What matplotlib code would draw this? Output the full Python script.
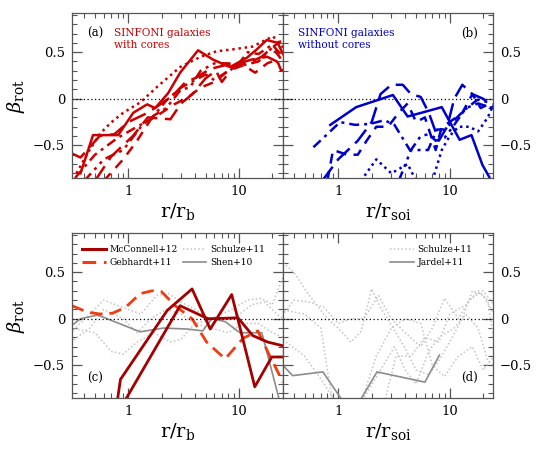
import numpy as np
import matplotlib
matplotlib.use("Agg")
import matplotlib.pyplot as plt
from matplotlib.lines import Line2D
from matplotlib.ticker import FixedLocator, NullFormatter, FuncFormatter

plt.rcParams['font.family'] = ['DejaVu Serif']
plt.rcParams['mathtext.fontset'] = 'dejavuserif'

# ---- panel (a): SINFONI galaxies with cores (x = r/r_b) ----
a_solid_x = [0.37, 0.48, 0.81, 1.11, 1.48, 1.75, 2.29, 2.94, 4.27, 5.83, 8.3, 11.8, 14.5, 17.8, 22.4, 25]
a_solid_y = [-0.80, -0.39, -0.39, -0.15, -0.06, -0.10, 0.06, 0.28, 0.52, 0.42, 0.34, 0.44, 0.53, 0.63, 0.60, 0.48]
a_dot_x = [0.34, 0.43, 0.56, 0.69, 0.90, 1.28, 1.83, 2.94, 4.5, 6.3, 8.8, 13.3, 20.3, 25]
a_dot_y = [-0.80, -0.58, -0.37, -0.26, -0.15, -0.04, 0.13, 0.34, 0.45, 0.51, 0.53, 0.56, 0.67, 0.55]
a_ldash_x = [0.30, 0.37, 0.55, 0.75, 1.0, 1.5, 2.0, 2.6, 3.3, 4.0, 5.5, 7.5, 10, 13, 18, 22, 25]
a_ldash_y = [-0.58, -0.63, -0.40, -0.38, -0.25, -0.15, -0.05, 0.05, 0.18, 0.22, 0.32, 0.36, 0.38, 0.42, 0.45, 0.40, 0.30]
a_dashdot_x = [0.33, 0.5, 0.8, 1.2, 1.6, 2.2, 3.0, 4.0, 5.0, 6.0, 8.0, 10, 12, 15, 20, 25]
a_dashdot_y = [-0.85, -0.60, -0.42, -0.30, -0.22, -0.02, 0.12, 0.20, 0.26, 0.20, 0.30, 0.38, 0.50, 0.48, 0.58, 0.45]
a_dash_x = [0.6, 0.9, 1.2, 1.6, 2.0, 2.6, 3.5, 4.5, 6.0, 8.0, 11, 14, 18, 22, 25]
a_dash_y = [-0.88, -0.65, -0.45, -0.22, -0.15, -0.06, 0.02, 0.12, 0.18, 0.30, 0.36, 0.28, 0.38, 0.42, 0.25]
a_ldash2_x = [0.5, 0.7, 1.1, 1.5, 2.4, 3.0, 3.8, 5.0, 6.2, 7.0, 9.0, 12, 16, 20, 24]
a_ldash2_y = [-0.88, -0.62, -0.40, -0.20, -0.22, -0.05, 0.05, 0.22, 0.30, 0.18, 0.35, 0.38, 0.45, 0.55, 0.62]
a_dd_x = [0.4, 0.6, 0.9, 1.3, 1.7, 2.2, 3.0, 3.6, 4.5, 6.0, 8.0, 11, 15, 20, 25]
a_dd_y = [-0.88, -0.65, -0.55, -0.30, -0.18, -0.10, 0.10, 0.12, 0.30, 0.38, 0.38, 0.36, 0.40, 0.55, 0.40]

# ---- panel (b): SINFONI galaxies without cores (x = r/r_soi) ----
b_solid_x = [0.85, 1.45, 3.1, 4.2, 5.6, 8.5, 12.3, 15.7, 19.7, 22.7]
b_solid_y = [-0.28, -0.09, 0.04, -0.19, -0.15, -0.09, -0.44, -0.39, -0.71, -0.84]
b_dashdot_x = [0.60, 1.04, 1.42, 1.93, 2.6, 3.2, 4.4, 6.4, 7.7, 9.0, 11, 13.6, 17.8, 22.7]
b_dashdot_y = [-0.52, -0.25, -0.28, -0.27, -0.23, -0.28, -0.55, -0.55, -0.33, -0.33, -0.23, -0.12, -0.01, -0.04]
b_ldash_x = [0.72, 1.0, 1.5, 2.0, 2.4, 3.0, 3.8, 4.5, 5.5, 6.5, 8.0, 9.5, 11, 13, 16, 20, 25]
b_ldash_y = [-0.88, -0.65, -0.45, -0.25, 0.05, 0.15, 0.15, 0.05, 0.02, -0.15, -0.45, -0.30, 0.0, 0.15, 0.05, 0.0, -0.10]
b_dash_x = [0.8, 0.9, 1.2, 1.5, 1.8, 2.2, 2.8, 3.5, 4.2, 5.0, 6.0, 7.5, 8.5, 10, 13, 16, 19, 23]
b_dash_y = [-0.88, -0.55, -0.60, -0.60, -0.45, -0.30, -0.30, -0.15, -0.05, -0.25, -0.20, -0.55, -0.30, -0.25, -0.15, 0.05, -0.10, -0.05]
b_dot1_x = [1.6, 2.2, 3.0, 4.2, 5.0]
b_dot1_y = [-0.88, -0.65, -0.80, -0.70, -0.88]
b_dot2_x = [7.0, 8.5, 10, 12, 15, 18, 22, 25]
b_dot2_y = [-0.88, -0.55, -0.40, -0.30, -0.30, -0.35, -0.20, -0.05]
b_dd_x = [3.5, 4.5, 5.5, 6.5, 7.5, 9.0, 11, 14, 18, 24]
b_dd_y = [-0.88, -0.55, -0.40, -0.38, -0.45, -0.42, -0.28, -0.10, -0.05, -0.10]

# ---- panel (c): literature, x = r/r_b ----
mc1_x = [0.78, 0.85, 2.25, 3.77, 5.5, 8.6, 13.9, 19.8, 25]
mc1_y = [-0.95, -0.65, 0.09, 0.32, -0.11, 0.26, -0.73, -0.41, -0.41]
mc2_x = [0.86, 2.94, 5.25, 9.8, 13.3, 18.2, 25]
mc2_y = [-0.95, 0.14, 0.0, 0.01, -0.18, -0.25, -0.29]
geb_x = [0.31, 0.43, 0.56, 0.72, 0.94, 1.28, 1.64, 2.0, 2.65, 3.77, 5.1, 7.5, 10.9, 14.8, 19.0, 25]
geb_y = [0.14, 0.07, 0.05, 0.06, 0.12, 0.27, 0.30, 0.29, 0.14, 0.0, -0.25, -0.43, -0.21, -0.13, -0.40, -0.68]
shen_x = [0.31, 0.37, 0.53, 1.28, 2.07, 3.4, 4.7, 5.7, 7.5, 10.2, 16.1, 23.5]
shen_y = [-0.07, 0.0, 0.04, -0.14, -0.10, -0.11, -0.13, 0.0, -0.03, -0.15, -0.15, -0.90]
sc1_x = [0.3, 0.45, 0.6, 0.9, 1.3, 1.8, 2.3, 3.0, 4.0, 5.5, 8.0, 12, 16, 20, 25]
sc1_y = [-0.15, 0.05, 0.20, 0.12, 0.05, 0.25, 0.27, 0.18, 0.10, 0.0, 0.08, 0.20, 0.22, 0.15, 0.45]
sc2_x = [0.3, 0.45, 0.6, 0.9, 1.2, 1.6, 2.2, 3.0, 4.0, 6.0, 9.0, 13, 17, 22, 25]
sc2_y = [-0.25, -0.10, 0.10, 0.0, -0.15, 0.0, 0.10, 0.05, -0.05, 0.0, 0.0, 0.15, 0.18, 0.05, 0.0]
sc3_x = [0.3, 0.5, 0.7, 0.9, 1.2, 1.7, 2.4, 3.0, 4.0, 5.5, 8.0, 11, 15, 20, 25]
sc3_y = [-0.10, -0.15, -0.35, -0.38, -0.25, -0.15, -0.25, -0.22, -0.05, -0.10, -0.15, -0.05, -0.05, -0.15, -0.20]

# ---- panel (d): literature, x = r/r_soi ----
jar_x = [0.32, 0.39, 0.73, 1.2, 1.45, 2.23, 6.0, 8.1]
jar_y = [-0.50, -0.61, -0.57, -0.95, -0.95, -0.57, -0.68, -0.39]
d1_x = [0.32, 0.4, 0.55, 0.8, 1.0, 1.3, 1.6, 2.0, 2.4, 3.0, 4.0, 5.0, 6.5, 8, 10, 13, 16, 20, 25]
d1_y = [0.60, 0.50, 0.25, 0.0, -0.10, -0.25, -0.14, 0.32, 0.12, -0.07, -0.32, -0.55, -0.60, -0.45, -0.25, 0.0, 0.30, 0.25, 0.05]
d2_x = [0.3, 0.4, 0.55, 0.75, 1.0, 1.3, 1.7, 2.3, 3.0, 4.0, 5.5, 7.0, 9.0, 12, 15, 20, 25]
d2_y = [0.0, 0.20, 0.18, 0.12, -0.05, 0.0, 0.0, 0.25, 0.0, -0.15, -0.30, -0.10, 0.22, 0.0, 0.20, 0.30, 0.15]
d3_x = [0.3, 0.5, 0.75, 0.95, 1.6, 2.2, 3.0, 4.0, 5.5, 7.0, 9.0, 12, 16, 20, 25]
d3_y = [-0.20, -0.40, -0.70, -0.90, -0.90, -0.40, -0.10, 0.0, -0.05, -0.50, -0.62, -0.40, -0.30, -0.55, -0.40]
d4_x = [0.3, 0.5, 0.7, 0.8, 0.9, 1.6, 2.4, 3.2, 4.0, 5.0, 6.5, 8.0, 11, 14, 18, 22, 25]
d4_y = [0.10, 0.05, -0.10, -0.55, -0.90, -0.90, -0.55, -0.30, -0.55, -0.70, -0.35, -0.20, -0.10, 0.05, -0.10, -0.45, -0.50]
d5_x = [2.6, 3.3, 4.5, 6.0, 8.0, 10, 14, 18, 22, 25]
d5_y = [-0.90, -0.40, -0.40, -0.20, -0.25, 0.05, 0.15, 0.30, 0.20, -0.25]

RED = '#cc0000'
BLUE = '#0000cc'
DARKRED = '#a50000'
ORANGE = '#f03c10'
LGRAY = '#c4c4c4'
GRAY = '#8c8c8c'

LDASH = (0, (7, 3))
DASH = (0, (4, 3))
DASHDOT = (0, (4, 2, 1.2, 2))
DASHDD = (0, (4, 2, 1.2, 2, 1.2, 2))
DOT = (0, (1, 1.5))
GEBDASH = (0, (4.5, 2.5))

fig = plt.figure(figsize=(5.39, 4.54), dpi=100)
axa = fig.add_axes([72 / 539, 1 - 178 / 454, 211 / 539, 165 / 454])
axb = fig.add_axes([283 / 539, 1 - 178 / 454, 210 / 539, 165 / 454])
axc = fig.add_axes([72 / 539, 1 - 398 / 454, 211 / 539, 165 / 454])
axd = fig.add_axes([283 / 539, 1 - 398 / 454, 210 / 539, 165 / 454])

lw = 1.8
axa.plot(a_solid_x, a_solid_y, color=RED, lw=lw)
axa.plot(a_dot_x, a_dot_y, color=RED, lw=lw, ls=DOT)
axa.plot(a_ldash_x, a_ldash_y, color=RED, lw=lw, ls=LDASH)
axa.plot(a_dashdot_x, a_dashdot_y, color=RED, lw=lw, ls=DASHDOT)
axa.plot(a_dash_x, a_dash_y, color=RED, lw=lw, ls=DASH)
axa.plot(a_ldash2_x, a_ldash2_y, color=RED, lw=lw, ls=LDASH)
axa.plot(a_dd_x, a_dd_y, color=RED, lw=lw, ls=DASHDD)

axb.plot(b_solid_x, b_solid_y, color=BLUE, lw=lw)
axb.plot(b_dashdot_x, b_dashdot_y, color=BLUE, lw=lw, ls=DASHDOT)
axb.plot(b_ldash_x, b_ldash_y, color=BLUE, lw=lw, ls=LDASH)
axb.plot(b_dash_x, b_dash_y, color=BLUE, lw=lw, ls=DASH)
axb.plot(b_dot1_x, b_dot1_y, color=BLUE, lw=lw, ls=DOT)
axb.plot(b_dot2_x, b_dot2_y, color=BLUE, lw=lw, ls=DOT)
axb.plot(b_dd_x, b_dd_y, color=BLUE, lw=lw, ls=DASHDD)

for sx, sy in [(sc1_x, sc1_y), (sc2_x, sc2_y), (sc3_x, sc3_y)]:
    axc.plot(sx, sy, color=LGRAY, lw=1.1, ls=DOT)
axc.plot(shen_x, shen_y, color=GRAY, lw=1.2)
axc.plot(geb_x, geb_y, color=ORANGE, lw=2.0, ls=GEBDASH)
axc.plot(mc1_x, mc1_y, color=DARKRED, lw=2.0)
axc.plot(mc2_x, mc2_y, color=DARKRED, lw=2.0)

for sx, sy in [(d1_x, d1_y), (d2_x, d2_y), (d3_x, d3_y), (d4_x, d4_y), (d5_x, d5_y)]:
    axd.plot(sx, sy, color=LGRAY, lw=1.1, ls=DOT)
axd.plot(jar_x, jar_y, color=GRAY, lw=1.2)

# legends
legprop = {'family': 'DejaVu Serif', 'size': 6.5}
hc = [Line2D([], [], color=DARKRED, lw=2.2),
      Line2D([], [], color=ORANGE, lw=2.2, ls=GEBDASH),
      Line2D([], [], color=LGRAY, lw=1.1, ls=DOT),
      Line2D([], [], color=GRAY, lw=1.2)]
axc.legend(hc, ['McConnell+12', 'Gebhardt+11', 'Schulze+11', 'Shen+10'],
           ncol=2, loc='upper left', bbox_to_anchor=(0.01, 0.975), frameon=False,
           prop=legprop, handlelength=2.6, handletextpad=0.4,
           columnspacing=0.6, labelspacing=0.4)
hd = [Line2D([], [], color=LGRAY, lw=1.1, ls=DOT), Line2D([], [], color=GRAY, lw=1.2)]
axd.legend(hd, ['Schulze+11', 'Jardel+11'], loc='upper right', bbox_to_anchor=(0.94, 0.975),
           frameon=False, prop=legprop, handlelength=2.6, handletextpad=0.4, labelspacing=0.4)

tfont = {'family': 'DejaVu Serif', 'size': 7.6}
lfont = {'family': 'DejaVu Serif', 'size': 8.5}
axa.text(0.07, 0.875, '(a)', transform=axa.transAxes, fontdict=lfont, va='center')
axa.text(0.20, 0.88, 'SINFONI galaxies', transform=axa.transAxes, fontdict=tfont, color=RED, va='center')
axa.text(0.20, 0.805, 'with cores', transform=axa.transAxes, fontdict=tfont, color=RED, va='center')
axb.text(0.07, 0.88, 'SINFONI galaxies', transform=axb.transAxes, fontdict=tfont, color=BLUE, va='center')
axb.text(0.07, 0.805, 'without cores', transform=axb.transAxes, fontdict=tfont, color=BLUE, va='center')
axb.text(0.93, 0.875, '(b)', transform=axb.transAxes, fontdict=lfont, va='center', ha='right')
axc.text(0.07, 0.12, '(c)', transform=axc.transAxes, fontdict=lfont, va='center')
axd.text(0.93, 0.127, '(d)', transform=axd.transAxes, fontdict=lfont, va='center', ha='right')


def yfmt(v, pos):
    if abs(v) < 1e-9:
        return '0'
    return ('\u2212' if v < 0 else '') + f'{abs(v):g}'


for ax, right in [(axa, False), (axb, True), (axc, False), (axd, True)]:
    ax.set_xscale('log')
    if right:
        ax.set_xlim(0.32, 24.5)
    else:
        ax.set_xlim(0.31, 25)
    ax.set_ylim(-0.85, 0.92)
    ax.axhline(0, color='black', lw=0.9, ls=(0, (1, 2)))
    ax.xaxis.set_major_locator(FixedLocator([1, 10]))
    ax.xaxis.set_minor_locator(FixedLocator([0.3, 0.4, 0.5, 0.6, 0.7, 0.8, 0.9, 2, 3, 4, 5, 6, 7, 8, 9, 20]))
    ax.xaxis.set_major_formatter(FuncFormatter(lambda v, p: f'{v:g}'))
    ax.xaxis.set_minor_formatter(NullFormatter())
    ax.yaxis.set_major_locator(FixedLocator([-0.5, 0, 0.5]))
    ax.yaxis.set_minor_locator(FixedLocator(np.round(np.arange(-0.8, 0.91, 0.1), 2)))
    ax.yaxis.set_major_formatter(FuncFormatter(yfmt))
    ax.tick_params(which='both', direction='in', top=True, right=True, left=True, bottom=True,
                   color='#555555', labelsize=9.5, pad=5)
    ax.tick_params(which='major', length=7, width=0.9)
    ax.tick_params(which='minor', length=3.5, width=0.8)
    ax.tick_params(labelleft=not right, labelright=right)
    for s in ax.spines.values():
        s.set_color('#555555')
        s.set_linewidth(0.9)

for ax in (axa, axc):
    ax.set_ylabel(r'$\beta_{\rm rot}$', fontsize=14, labelpad=4)
    ax.set_xlabel(r'$\mathrm{r/r_b}$', fontsize=14, labelpad=2)
for ax in (axb, axd):
    ax.set_xlabel(r'$\mathrm{r/r_{soi}}$', fontsize=14, labelpad=2)

fig.savefig('out.png', dpi=100)
